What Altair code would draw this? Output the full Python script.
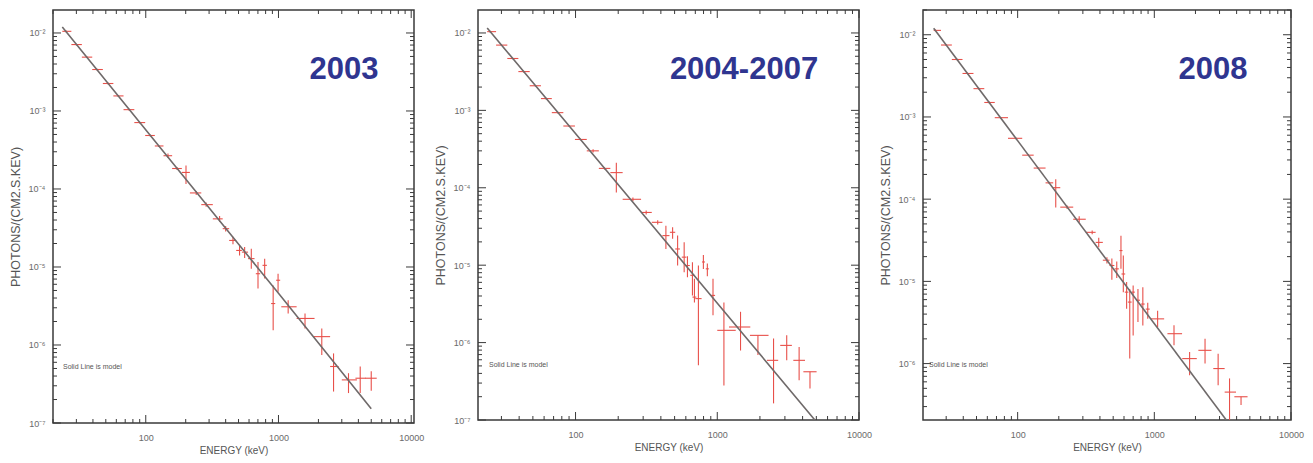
import math
import altair as alt
import pandas as pd

# ---------------- data ----------------
# Panel 1: 2003
E1 = [25, 30, 36, 43, 52, 62, 75, 90, 108, 125, 147, 172, 201, 240, 285, 360, 400, 454, 509, 556,
      624, 701, 787, 912, 993, 1183, 1585, 2120, 2600, 3370, 4130, 5000]
F1 = [1.05e-2, 7.1e-3, 4.9e-3, 3.4e-3, 2.25e-3, 1.56e-3, 1.04e-3, 7.1e-4, 4.85e-4, 3.56e-4,
      2.67e-4, 1.83e-4, 1.63e-4, 8.9e-5, 6.3e-5, 4.14e-5, 3.1e-5, 2.19e-5, 1.63e-5, 1.55e-5,
      1.28e-5, 8.2e-6, 1.05e-5, 3.4e-6, 6.76e-6, 3.09e-6, 2.19e-6, 1.28e-6, 5.3e-7, 3.57e-7,
      3.75e-7, 3.75e-7]
E1_lo = [23.5, 27.5, 33, 39.5, 47.5, 57, 68, 82, 99, 117, 136, 158, 187, 215, 262, 320, 380, 425,
         480, 530, 590, 675, 758, 880, 960, 1050, 1370, 1830, 2450, 3000, 3800, 4500]
E1_hi = [27.5, 33, 39.5, 47.5, 57, 68, 82, 99, 117, 136, 158, 187, 215, 262, 320, 380, 425, 480,
         530, 590, 660, 728, 818, 945, 1030, 1370, 1870, 2450, 2840, 3900, 4550, 5500]
F1_lo = [1.02e-2, 6.9e-3, 4.77e-3, 3.31e-3, 2.19e-3, 1.52e-3, 1.01e-3, 6.9e-4, 4.72e-4, 3.46e-4,
         2.5e-4, 1.75e-4, 1.16e-4, 8.4e-5, 5.9e-5, 3.8e-5, 2.85e-5, 1.95e-5, 1.4e-5, 1.3e-5,
         9.5e-6, 5.3e-6, 7.1e-6, 1.55e-6, 4.8e-6, 2.53e-6, 1.63e-6, 7.45e-7, 2.53e-7, 2.42e-7,
         2.42e-7, 2.6e-7]
F1_hi = [1.08e-2, 7.3e-3, 5.03e-3, 3.49e-3, 2.31e-3, 1.6e-3, 1.07e-3, 7.3e-4, 4.98e-4, 3.66e-4,
         2.85e-4, 1.91e-4, 2.0e-4, 9.4e-5, 6.7e-5, 4.5e-5, 3.35e-5, 2.45e-5, 1.9e-5, 1.8e-5,
         1.71e-5, 1.16e-5, 1.28e-5, 5.8e-6, 8.2e-6, 3.75e-6, 2.54e-6, 1.63e-6, 7.8e-7, 4.35e-7,
         5.3e-7, 4.6e-7]
M1_E = [23.5, 1000, 5000]
M1_F = [1.19e-2, 4.6e-6, 1.52e-7]

# Panel 2: 2004-2007
E2 = [25, 30, 36, 43, 52, 62, 75, 90, 108, 133, 160, 194, 254, 315, 380, 434, 484, 525, 584,
      616, 668, 690, 736, 798, 851, 933, 1114, 1459, 1936, 2495, 3090, 3780, 4510]
F2 = [1.04e-2, 6.97e-3, 4.68e-3, 3.17e-3, 2.08e-3, 1.42e-3, 9.35e-4, 6.28e-4, 4.21e-4,
      3.0e-4, 1.78e-4, 1.57e-4, 7.1e-5, 4.8e-5, 3.58e-5, 2.41e-5, 2.66e-5, 1.62e-5, 1.27e-5,
      9.9e-6, 7.4e-6, 3.87e-6, 3.7e-6, 1.1e-5, 8.97e-6, 4.07e-6, 1.44e-6, 1.59e-6, 1.24e-6,
      5.9e-7, 9.2e-7, 5.9e-7, 4.2e-7]
E2_lo = [23.8, 27.5, 33, 39.5, 47.5, 57, 68, 82, 99, 120, 146, 176, 215, 290, 345, 410, 463, 505,
         562, 595, 645, 668, 700, 780, 830, 900, 1000, 1210, 1700, 2240, 2780, 3440, 4050]
E2_hi = [27.5, 33, 39.5, 47.5, 57, 68, 82, 99, 120, 146, 176, 215, 290, 345, 410, 460, 505, 545,
         606, 640, 692, 712, 775, 818, 872, 965, 1350, 1710, 2300, 2690, 3360, 4160, 5020]
F2_lo = [1.01e-2, 6.8e-3, 4.56e-3, 3.09e-3, 2.03e-3, 1.38e-3, 9.1e-4, 6.12e-4, 4.1e-4,
         2.85e-4, 1.72e-4, 8.7e-5, 6.7e-5, 4.5e-5, 3.35e-5, 1.62e-5, 2.2e-5, 9.9e-6, 8.1e-6,
         7.0e-6, 4.07e-6, 3.3e-6, 5.1e-7, 8.9e-6, 7.2e-6, 2.25e-6, 2.8e-7, 7.9e-7, 6.9e-7,
         1.64e-7, 5.9e-7, 3.27e-7, 2.56e-7]
F2_hi = [1.07e-2, 7.15e-3, 4.8e-3, 3.25e-3, 2.13e-3, 1.46e-3, 9.6e-4, 6.44e-4, 4.32e-4,
         3.15e-4, 1.84e-4, 2.1e-4, 7.5e-5, 5.1e-5, 3.8e-5, 3.24e-5, 3.1e-5, 2.41e-5, 1.98e-5,
         1.3e-5, 1.09e-5, 6.7e-6, 9.9e-6, 1.35e-5, 1.05e-5, 6.7e-6, 3.3e-6, 2.5e-6, 1.24e-6,
         1.13e-6, 1.24e-6, 8.8e-7, 4.2e-7]
M2_E = [23.8, 1420, 4880]
M2_F = [1.16e-2, 1.5e-6, 1.0e-7]

# Panel 3: 2008
E3 = [25, 30, 36, 43, 52, 62, 75, 97, 120, 141, 170, 190, 230, 282, 351, 392, 450, 489, 531, 570,
      593, 627, 661, 700, 759, 824, 895, 1057, 1393, 1812, 2350, 2930, 3550, 4310]
F3 = [1.13e-2, 7.5e-3, 5.0e-3, 3.38e-3, 2.21e-3, 1.5e-3, 9.8e-4, 5.5e-4, 3.43e-4, 2.39e-4,
      1.58e-4, 1.38e-4, 8.0e-5, 5.7e-5, 3.95e-5, 2.98e-5, 1.81e-5, 1.56e-5, 1.42e-5, 2.37e-5,
      1.23e-5, 7.4e-6, 5.6e-6, 7.4e-6, 5.9e-6, 5.3e-6, 4.6e-6, 3.5e-6, 2.31e-6, 1.15e-6,
      1.45e-6, 8.7e-7, 4.5e-7, 3.95e-7]
E3_lo = [24.3, 27.5, 33, 39.5, 47.5, 57, 68, 85, 108, 131, 160, 182, 205, 255, 315, 372, 420, 470,
         512, 555, 575, 608, 640, 680, 735, 800, 865, 946, 1247, 1600, 2100, 2700, 3270, 3850]
E3_hi = [27.5, 33, 39.5, 47.5, 57, 68, 85, 108, 131, 160, 182, 205, 255, 315, 372, 420, 470, 510,
         550, 585, 612, 646, 682, 720, 785, 850, 925, 1180, 1596, 2045, 2620, 3270, 3960, 4810]
F3_lo = [1.1e-2, 7.3e-3, 4.88e-3, 3.3e-3, 2.15e-3, 1.46e-3, 9.55e-4, 5.36e-4, 3.34e-4, 2.33e-4,
         1.53e-4, 7.9e-5, 7.6e-5, 5.2e-5, 3.75e-5, 2.6e-5, 1.65e-5, 1.05e-5, 1.1e-5, 1.42e-5,
         7.4e-6, 4.64e-6, 1.15e-6, 2.2e-6, 3.2e-6, 2.9e-6, 3.5e-6, 2.78e-6, 1.67e-6, 7.2e-7,
         1.0e-6, 5.45e-7, 2.06e-7, 3.13e-7]
F3_hi = [1.16e-2, 7.7e-3, 5.12e-3, 3.46e-3, 2.27e-3, 1.54e-3, 1.0e-3, 5.64e-4, 3.52e-4, 2.45e-4,
         1.63e-4, 1.75e-4, 8.4e-5, 6.2e-5, 4.15e-5, 3.4e-5, 1.97e-5, 1.9e-5, 1.75e-5, 3.6e-5,
         2.06e-5, 9.8e-6, 8.1e-6, 8.9e-6, 8.1e-6, 8.5e-6, 5.5e-6, 4.4e-6, 2.92e-6, 1.38e-6,
         2.0e-6, 1.32e-6, 6.6e-7, 3.95e-7]
M3_E = [24.3, 3360]
M3_F = [1.2e-2, 2.06e-7]

PANEL_LABELS = ["2003", "2004-2007", "2008"]
NOTE = "Solid Line is model"
X_TITLE = "ENERGY (keV)"
Y_TITLE = "PHOTONS/(CM2.S.KEV)"
X_TICK_VALUES = [100, 1000, 10000]
X_TICK_LABELS = ["100", "1000", "10000"]
Y_TICK_VALUES = [1e-2, 1e-3, 1e-4, 1e-5, 1e-6, 1e-7]
Y_TICK_LABELS = ["10\u207b\u00b2", "10\u207b\u00b3", "10\u207b\u2074", "10\u207b\u2075",
                 "10\u207b\u2076", "10\u207b\u2077"]

RED = "#e8504a"
MODEL = "#6f6a6a"
FRAME = "#3a3a3a"
NAVY = "#2f3590"
FONT = "Liberation Sans"


def label_expr(values, labels):
    expr = "''"
    for v, lab in reversed(list(zip(values, labels))):
        expr = f"round(log(datum.value)/LN10) == {round(math.log10(v))} ? '{lab}' : {expr}"
    return expr


def panel(E, F, Elo, Ehi, Flo, Fhi, ME, MF, label, xdom, ydom, W, H, lab_x, note_x, note_y):
    df = pd.DataFrame({"E": E, "F": F, "Elo": Elo, "Ehi": Ehi, "Flo": Flo, "Fhi": Fhi})
    xs = alt.Scale(type="log", domain=xdom, nice=False)
    ys = alt.Scale(type="log", domain=ydom, nice=False)
    yvals = [v for v in Y_TICK_VALUES if ydom[0] * 0.999 <= v <= ydom[1]]
    xaxis = alt.Axis(values=X_TICK_VALUES, labelExpr=label_expr(X_TICK_VALUES, X_TICK_LABELS),
                     title=X_TITLE, ticks=False, domain=False, grid=False, labelFlush=False,
                     labelPadding=10, labelFontSize=9, labelColor="#6a6a6a", labelFont=FONT,
                     titleFontSize=10, titleColor="#555", titleFont=FONT, titleFontWeight="normal",
                     titlePadding=3)
    yaxis = alt.Axis(values=yvals, labelExpr=label_expr(Y_TICK_VALUES, Y_TICK_LABELS),
                     title=Y_TITLE, ticks=False, domain=False, grid=False, labelFlush=False,
                     labelPadding=8, labelFontSize=9, labelColor="#6a6a6a", labelFont=FONT,
                     titleFontSize=12.5, titleColor="#555", titleFont=FONT, titleFontWeight="normal",
                     titlePadding=5, minExtent=26, maxExtent=26)

    def X(field):
        return alt.X(field, scale=xs, axis=xaxis)

    def Y(field):
        return alt.Y(field, scale=ys, axis=yaxis)

    base = alt.Chart(df)
    hbar = base.mark_rule(color=RED, strokeWidth=1.1, clip=True).encode(
        x=X("Elo:Q"), x2="Ehi:Q", y=Y("F:Q"))
    vbar = base.mark_rule(color=RED, strokeWidth=1.1, clip=True).encode(
        x=X("E:Q"), y=Y("Flo:Q"), y2="Fhi:Q")
    model = alt.Chart(pd.DataFrame({"E": ME, "F": MF})).mark_line(
        color=MODEL, strokeWidth=1.6, clip=True).encode(x=X("E:Q"), y=Y("F:Q"))

    # inward tick marks on all four sides
    xmaj = [v for v in X_TICK_VALUES if xdom[0] <= v <= xdom[1]]
    xmin = [m * 10 ** d for d in range(1, 4) for m in range(2, 10)
            if xdom[0] <= m * 10 ** d <= xdom[1]]
    ymaj = [10.0 ** d for d in range(-8, 0) if ydom[0] <= 10.0 ** d <= ydom[1]]
    ymin = [m * 10.0 ** d for d in range(-8, 0) for m in range(2, 10)
            if ydom[0] <= m * 10.0 ** d <= ydom[1]]
    ticks = []
    for vals, ln in ((xmaj, 8), (xmin, 4)):
        src = alt.Chart(pd.DataFrame({"v": vals}))
        ticks.append(src.mark_rule(color=FRAME, strokeWidth=1).encode(
            x=X("v:Q"), y=alt.value(H - ln), y2=alt.value(H)))
        ticks.append(src.mark_rule(color=FRAME, strokeWidth=1).encode(
            x=X("v:Q"), y=alt.value(0), y2=alt.value(ln)))
    for vals, ln in ((ymaj, 8), (ymin, 4)):
        src = alt.Chart(pd.DataFrame({"v": vals}))
        ticks.append(src.mark_rule(color=FRAME, strokeWidth=1).encode(
            y=Y("v:Q"), x=alt.value(0), x2=alt.value(ln)))
        ticks.append(src.mark_rule(color=FRAME, strokeWidth=1).encode(
            y=Y("v:Q"), x=alt.value(W - ln), x2=alt.value(W)))

    year = alt.Chart(pd.DataFrame({"t": [label]})).mark_text(
        font=FONT, fontSize=31, fontWeight="bold", color=NAVY, align="center",
        baseline="middle").encode(text="t:N", x=alt.value(lab_x), y=alt.value(60))
    note = alt.Chart(pd.DataFrame({"t": [NOTE]})).mark_text(
        font=FONT, fontSize=7, color="#555", align="left", baseline="middle").encode(
        text="t:N", x=alt.value(note_x), y=alt.value(note_y))
    layers = [hbar, vbar, model] + ticks + [year, note]
    return alt.layer(*layers).properties(width=W, height=H)


p1 = panel(E1, F1, E1_lo, E1_hi, F1_lo, F1_hi, M1_E, M1_F, PANEL_LABELS[0],
           [20, 10500], [1e-7, 1.97e-2], 361, 413, 291, 10, 357)
p2 = panel(E2, F2, E2_lo, E2_hi, F2_lo, F2_hi, M2_E, M2_F, PANEL_LABELS[1],
           [20.5, 10000], [1e-7, 1.98e-2], 381, 410, 266, 11, 355)
p3 = panel(E3, F3, E3_lo, E3_hi, F3_lo, F3_hi, M3_E, M3_F, PANEL_LABELS[2],
           [20.3, 10000], [2.06e-7, 2.0e-2], 368, 410, 290, 6, 355)

chart = alt.hconcat(p1, p2, p3, spacing=64, bounds="flush").properties(
    padding=0
).configure_view(stroke=FRAME, strokeWidth=1.5)

chart.save("out.html", embed_options={"renderer": "svg", "actions": False})
